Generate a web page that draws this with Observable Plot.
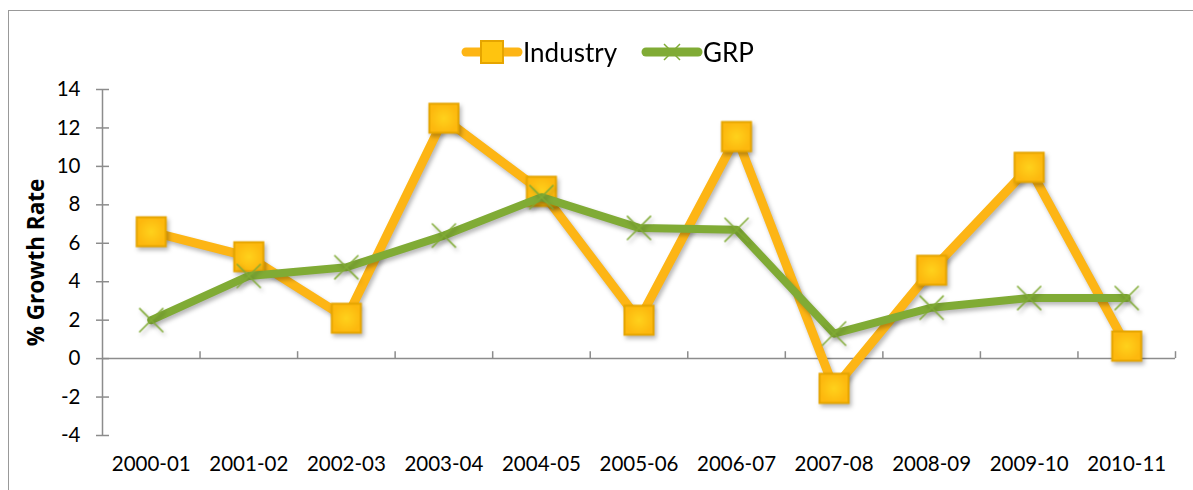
<!DOCTYPE html>
<html><head><meta charset="utf-8">
<script src="https://cdn.jsdelivr.net/npm/d3@7"></script>
<script src="https://cdn.jsdelivr.net/npm/@observablehq/plot@0.6"></script>
<style>
body{margin:0;background:#fff;font-family:Lato,"Open Sans",sans-serif;overflow:hidden;}
#frame{position:absolute;left:8px;top:10px;width:1300px;height:600px;border:1.5px solid #999;box-sizing:border-box;pointer-events:none;}
#legend{position:relative;height:75px;}
#legend .item{position:absolute;top:36px;display:flex;align-items:center;font-size:26px;color:#000;}
#chart svg g[aria-label="line"], #chart svg g[aria-label="dot"]{filter:drop-shadow(2px 3px 2px rgba(0,0,0,0.28));}
</style></head><body>
<div id="frame"></div>
<div id="legend"></div>
<div id="chart"></div>
<script>
const years = ["2000-01","2001-02","2002-03","2003-04","2004-05","2005-06","2006-07","2007-08","2008-09","2009-10","2010-11"];
const industry = [6.6, 5.3, 2.1, 12.5, 8.7, 2.0, 11.55, -1.55, 4.6, 9.95, 0.65];
const grp = [2.0, 4.3, 4.75, 6.4, 8.4, 6.8, 6.7, 1.3, 2.65, 3.15, 3.15];
const yTicks = [-4, -2, 0, 2, 4, 6, 8, 10, 12, 14];
const seriesNames = ["Industry", "GRP"];
const colors = {Industry: "#FDB515", GRP: "#80AB35"};
const squareFill = "url(#sqgrad)";
const squareStroke = "#E6A500";

const idx = years.map((_, i) => i);
const boundaries = idx.map(i => i + 0.5);
const rows = idx.map(i => ({i, industry: industry[i], grp: grp[i]}));

// legend
const legend = document.getElementById("legend");
const legendLeft = {Industry: 458, GRP: 638};
seriesNames.forEach(name => {
  const item = document.createElement("div");
  item.className = "item";
  item.style.left = legendLeft[name] + "px";
  const s = d3.create("svg").attr("width", 65).attr("height", 30);
  s.append("line").attr("x1", 8).attr("x2", 60).attr("y1", 15).attr("y2", 15)
    .attr("stroke", colors[name]).attr("stroke-width", 9).attr("stroke-linecap", "round");
  if (name === "Industry") {
    s.append("rect").attr("x", 23).attr("y", 4).attr("width", 22).attr("height", 22)
      .attr("fill", "#FFC40F").attr("stroke", squareStroke).attr("stroke-width", 2);
  } else {
    s.append("path").attr("d", "M26,7L42,23M42,7L26,23").attr("stroke", colors[name]).attr("stroke-width", 1.5);
  }
  item.appendChild(s.node());
  const t = document.createElement("span");
  t.textContent = name;
  item.appendChild(t);
  legend.appendChild(item);
});

const chart = Plot.plot({
  width: 1193,
  height: 415,
  marginLeft: 102,
  marginRight: 18,
  marginTop: 14,
  marginBottom: 55,
  style: {fontFamily: "Lato, 'Open Sans', sans-serif", fontSize: "20px", color: "#000", background: "transparent"},
  x: {type: "linear", domain: [-0.5, 10.5], axis: null, label: null},
  y: {domain: [-4, 14], axis: null, label: null},
  marks: [
    () => {
      const defs = d3.create("svg:defs");
      const g = defs.append("radialGradient").attr("id", "sqgrad");
      g.append("stop").attr("offset", "0%").attr("stop-color", "#FFD21C");
      g.append("stop").attr("offset", "100%").attr("stop-color", "#FDB80E");
      return defs.node();
    },
    Plot.ruleX([-0.5], {y1: -4, y2: 14, stroke: "#8c8c8c", strokeWidth: 1.5}),
    Plot.ruleY([0], {x1: -0.5, x2: 10.5, stroke: "#8c8c8c", strokeWidth: 1.5}),
    Plot.ruleX(boundaries, {x: d => d, y1: 0, y2: 0.36, stroke: "#8c8c8c", strokeWidth: 1.5}),
    Plot.axisY({ticks: yTicks, tickSize: 13, dx: 7, text: null, label: null, stroke: "#8c8c8c", strokeWidth: 1.5}),
    Plot.axisY({ticks: yTicks, tickSize: 0, tickPadding: 22, tickFormat: d => d, label: null, fontSize: 20.5}),
    Plot.axisX({ticks: idx, tickSize: 0, tickPadding: 21, tickFormat: i => years[i], label: null, fontSize: 20.5}),
    Plot.text(["% Growth Rate"], {frameAnchor: "left", rotate: -90, dx: -66, textAnchor: "middle", fontWeight: "bold", fontSize: 22.5, fontFamily: "'Open Sans', sans-serif", lineAnchor: "middle"}),
    Plot.line(rows, {x: "i", y: "industry", stroke: colors.Industry, strokeWidth: 9, strokeLinejoin: "miter"}),
    Plot.dot(rows, {x: "i", y: "industry", symbol: "square", r: 16.4, fill: squareFill, stroke: squareStroke, strokeWidth: 2}),
    Plot.line(rows, {x: "i", y: "grp", stroke: colors.GRP, strokeWidth: 8, strokeLinejoin: "round"}),
    Plot.dot(rows, {x: "i", y: "grp", symbol: "times", r: 11, stroke: colors.GRP, strokeWidth: 1.5})
  ]
});
document.getElementById("chart").appendChild(chart);
</script>
</body></html>
